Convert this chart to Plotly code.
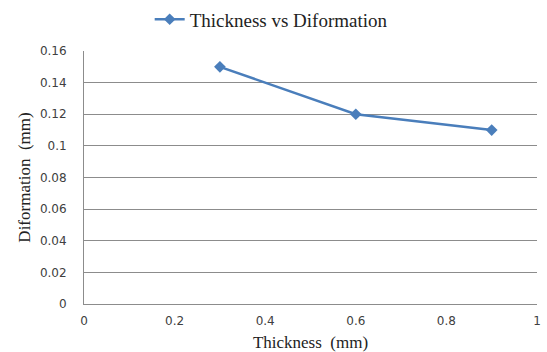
import plotly.graph_objects as go

thickness = [0.3, 0.6, 0.9]
deformation = [0.15, 0.12, 0.11]
series_name = "Thickness vs Diformation"
x_ticks = [0, 0.2, 0.4, 0.6, 0.8, 1]
x_tick_labels = ["0", "0.2", "0.4", "0.6", "0.8", "1"]
y_ticks = [0, 0.02, 0.04, 0.06, 0.08, 0.1, 0.12, 0.14, 0.16]
y_tick_labels = ["0", "0.02", "0.04", "0.06", "0.08", "0.1", "0.12", "0.14", "0.16"]

fig = go.Figure()
fig.add_trace(go.Scatter(
    x=thickness, y=deformation, name=series_name, mode="lines+markers",
    line=dict(color="#4A7EBB", width=2.5),
    marker=dict(symbol="diamond", size=9, color="#4A7EBB"),
    showlegend=True,
))

tick_font = dict(family="DejaVu Sans", size=12, color="#404040")
title_font = dict(family="Liberation Serif, Times New Roman, serif", size=17, color="#222222")

fig.update_layout(
    width=547, height=352,
    margin=dict(l=84, r=10, t=51, b=48, autoexpand=False),
    paper_bgcolor="white", plot_bgcolor="white",
    showlegend=True,
    legend=dict(orientation="h", x=0.145, y=1.125, xanchor="left", yanchor="middle",
                font=dict(family="Liberation Serif, Times New Roman, serif", size=19, color="#222222"),
                bgcolor="rgba(0,0,0,0)", itemwidth=30),
    xaxis=dict(range=[0, 1], tickvals=x_ticks, ticktext=x_tick_labels, showgrid=False,
               showline=True, linecolor="#8c8c8c", linewidth=1, zeroline=False,
               ticks="", tickfont=tick_font, ticklabelstandoff=6,
               title=dict(text="Thickness  (mm)", font=title_font, standoff=9)),
    yaxis=dict(range=[0, 0.16], tickvals=y_ticks, ticktext=y_tick_labels, showgrid=True,
               gridcolor="#8c8c8c", gridwidth=1,
               showline=True, linecolor="#8c8c8c", linewidth=1, zeroline=False,
               ticks="", tickfont=tick_font, ticklabelstandoff=14,
               title=dict(text="Diformation  (mm)", font=title_font, standoff=4)),
)

fig.write_html("out.html")
